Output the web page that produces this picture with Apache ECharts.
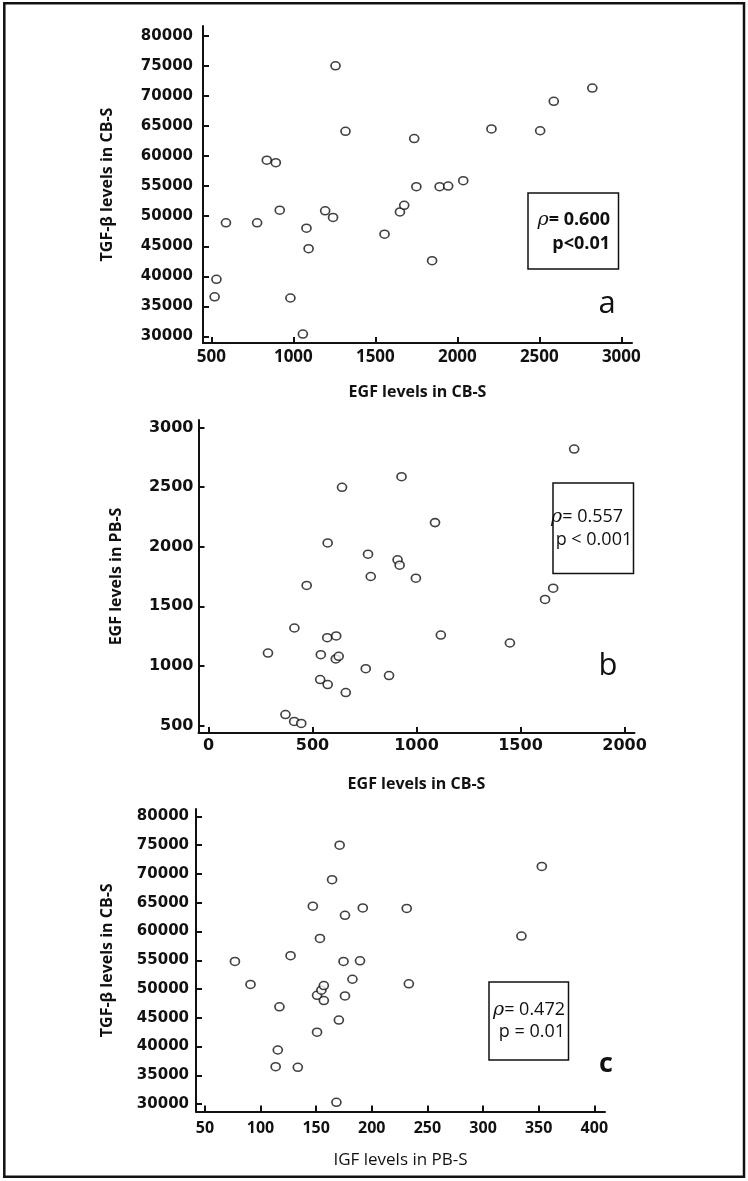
<!DOCTYPE html>
<html>
<head>
<meta charset="utf-8">
<script src="https://cdn.jsdelivr.net/npm/echarts@6/dist/echarts.min.js"></script>
<style>
html,body{margin:0;padding:0;background:#fff;}
#chart{width:748px;height:1181px;}
</style>
</head>
<body>
<div id="chart"></div>
<script>
// Panel a: EGF in CB-S (x) vs TGF-β in CB-S (y)
var aEGF = [520,531,589,779,838,893,917,982,1058,1080,1093,1194,1242,1257,1318,1556,1650,1676,1737,1750,1846,1892,1944,2036,2208,2505,2588,2823];
var aTGF = [36600,39500,48900,48900,59300,58900,51000,36400,30400,48000,44600,50900,49800,75000,64100,47000,50700,51800,62900,54900,42600,54900,55000,55900,64500,64200,69100,71300];
var aXTicks = [500,1000,1500,2000,2500,3000];
var aYTicks = [30000,35000,40000,45000,50000,55000,60000,65000,70000,75000,80000];

// Panel b: EGF in CB-S (x) vs EGF in PB-S (y)
var bCB = [286,370,412,446,413,472,540,537,573,573,571,614,612,626,642,660,756,767,780,868,909,919,928,997,1089,1117,1449,1618,1657,1758];
var bPB = [1108,592,534,517,1318,1675,1094,885,843,2032,1237,1251,1058,1080,2498,776,977,1937,1750,919,1890,1845,2587,1736,2202,1259,1192,1558,1652,2819];
var bXTicks = [0,500,1000,1500,2000];
var bYTicks = [500,1000,1500,2000,2500,3000];

// Panel c: IGF in PB-S (x) vs TGF-β in CB-S (y)
var cIGF = [77,91,117,115.5,113.6,133.5,127,147,153.4,150.8,150.8,154.7,156.9,156.9,164.3,168.2,170.4,171.1,174.6,175.9,175.9,182.6,189.4,191.9,231.4,233.3,334.5,352.8];
var cTGF = [54800,50800,46900,39400,36500,36400,55800,64400,58800,48900,42500,49800,50600,48000,69000,30300,44600,75000,54800,48800,62800,51700,54900,64100,64000,50900,59200,71300];
var cXTicks = [50,100,150,200,250,300,350,400];
var cYTicks = [30000,35000,40000,45000,50000,55000,60000,65000,70000,75000,80000];

var names = {
  aX: 'EGF levels in CB-S', aY: 'TGF-β levels in CB-S',
  bX: 'EGF levels in CB-S', bY: 'EGF levels in PB-S',
  cX: 'IGF levels in PB-S', cY: 'TGF-β levels in CB-S'
};
var stats = {
  a: ['= 0.600', 'p<0.01'],
  b: ['= 0.557', ' p < 0.001'],
  c: ['= 0.472', 'p = 0.01']
};

function pairs(xs, ys){ return xs.map(function(x,i){ return [x, ys[i]]; }); }
function plain(v){ return String(v); }

var axisLineStyle = {show:true, onZero:false, lineStyle:{color:'#111', width:2}};
var tickStyle = {show:true, inside:true, length:6, lineStyle:{color:'#111', width:2}};

function xAxis(gi, min, max, ticks, name, gap, lab, nameStyle){
  return {
    type:'value', gridIndex:gi, min:min, max:max,
    axisLine: axisLineStyle,
    axisTick: Object.assign({customValues:ticks}, tickStyle),
    axisLabel: Object.assign({customValues:ticks, color:'#111', fontWeight:'bold', formatter:plain}, lab),
    splitLine:{show:false},
    name:name, nameLocation:'middle', nameGap:gap,
    nameTextStyle:Object.assign({color:'#111', fontFamily:'Open Sans', fontWeight:'bold', fontSize:16}, nameStyle || {})
  };
}
function yAxis(gi, min, max, ticks, name, gap, lab){
  return {
    type:'value', gridIndex:gi, min:min, max:max,
    axisLine: axisLineStyle,
    axisTick: Object.assign({customValues:ticks}, tickStyle),
    axisLabel: Object.assign({customValues:ticks, color:'#111', fontWeight:'bold', fontFamily:'DejaVu Sans', formatter:plain}, lab),
    splitLine:{show:false},
    name:name, nameLocation:'middle', nameGap:gap, nameRotate:90,
    nameTextStyle:{color:'#111', fontFamily:'Open Sans', fontWeight:'bold', fontSize:16}
  };
}

var symbolStyle = {
  type:'scatter', symbol:'circle', symbolSize:[9,8],
  itemStyle:{color:'#fff', borderColor:'#111', borderWidth:1.6},
  emphasis:{disabled:true}, silent:true
};

function statBox(x, y, w, h, lines, tx, ty1, ty2, align, weight){
  return {
    type:'group', children:[
      {type:'rect', shape:{x:x, y:y, width:w, height:h}, style:{fill:'#fff', stroke:'#111', lineWidth:1.5}},
      {type:'text', x:tx, y:ty1, style:{
        text:'{r|ρ}{t|' + lines[0] + '}', align:align, verticalAlign:'middle',
        fontFamily:'Open Sans', fontSize:18, fontWeight:weight, fill:'#111',
        rich:{
          r:{fontFamily:'DejaVu Serif', fontStyle:'italic', fontSize:19, fill:'#111'},
          t:{fontFamily:'Open Sans', fontSize:18, fontWeight:weight, fill:'#111'}
        }
      }},
      {type:'text', x:tx, y:ty2, style:{
        text:lines[1], align:align, verticalAlign:'middle',
        fontFamily:'Open Sans', fontSize:18, fontWeight:weight, fill:'#111'
      }}
    ]
  };
}

var chart = echarts.init(document.getElementById('chart'), null, {renderer:'canvas'});
chart.setOption({
  animation:false,
  backgroundColor:'#fff',
  grid:[
    {left:203, top:26, width:429, height:317},
    {left:198.5, top:420, width:436, height:313},
    {left:196, top:809, width:409, height:302.5}
  ],
  xAxis:[
    xAxis(0, 449, 3065, aXTicks, names.aX, 41, {fontFamily:'Open Sans', fontSize:17, margin:6}),
    xAxis(1, -48, 2048, bXTicks, names.bX, 43, {fontFamily:'DejaVu Sans', fontSize:16, margin:5}),
    xAxis(2, 42, 409.6, cXTicks, names.cX, 40, {fontFamily:'Open Sans', fontSize:16, margin:9}, {fontWeight:'normal', fontSize:17})
  ],
  yAxis:[
    yAxis(0, 28920, 81612, aYTicks, names.aY, 88, {fontSize:15, margin:10}),
    yAxis(1, 437, 3063, bYTicks, names.bY, 74, {fontSize:16, margin:5}),
    yAxis(2, 28713, 81287, cYTicks, names.cY, 81, {fontSize:15, margin:7})
  ],
  series:[
    Object.assign({xAxisIndex:0, yAxisIndex:0, data:pairs(aEGF, aTGF)}, symbolStyle),
    Object.assign({xAxisIndex:1, yAxisIndex:1, data:pairs(bCB, bPB)}, symbolStyle),
    Object.assign({xAxisIndex:2, yAxisIndex:2, data:pairs(cIGF, cTGF)}, symbolStyle)
  ],
  graphic:[
    {type:'rect', shape:{x:4.3, y:3.3, width:739.7, height:1173.5}, style:{fill:null, stroke:'#111', lineWidth:2.5}},
    statBox(528, 193, 90.5, 76, stats.a, 610, 220, 243.5, 'right', 'bold'),
    statBox(553, 483, 80.5, 90.5, stats.b, 551, 517, 540, 'left', 'normal'),
    statBox(489, 982, 79.5, 78, stats.c, 565, 1010, 1032, 'right', 'normal'),
    {type:'text', x:607, y:304, style:{text:'a', align:'center', verticalAlign:'middle', fontFamily:'Open Sans', fontSize:31, fill:'#111'}},
    {type:'text', x:608, y:666, style:{text:'b', align:'center', verticalAlign:'middle', fontFamily:'Open Sans', fontSize:31, fill:'#111'}},
    {type:'text', x:606, y:1064, style:{text:'c', align:'center', verticalAlign:'middle', fontFamily:'Open Sans', fontSize:27, fontWeight:'bold', fill:'#111'}}
  ]
});
</script>
</body>
</html>
